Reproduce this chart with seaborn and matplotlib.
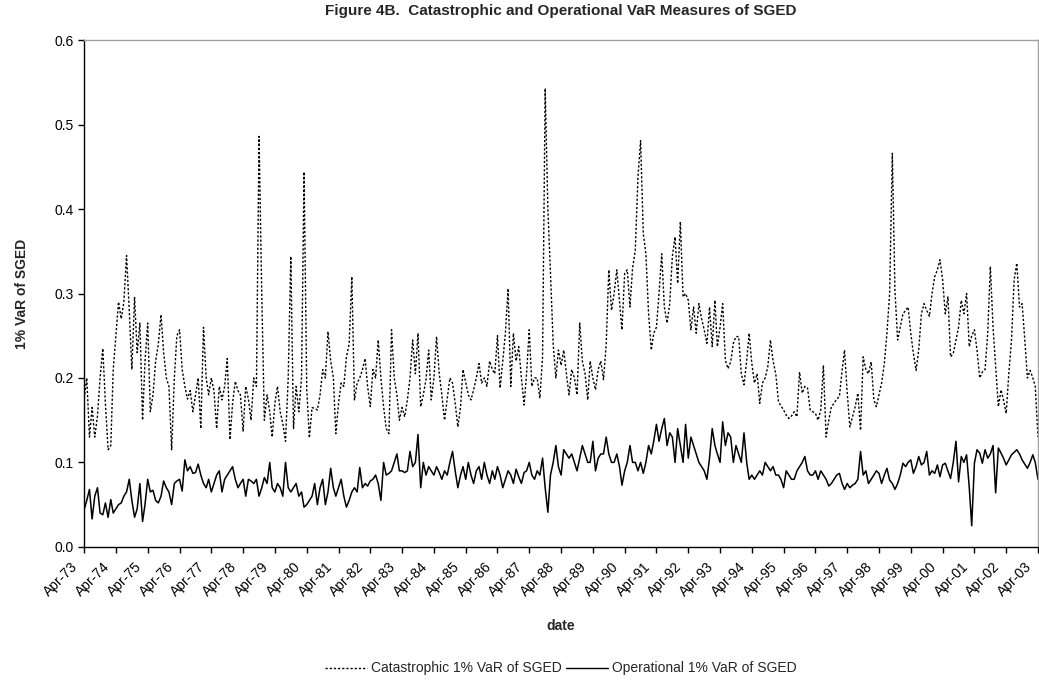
import pandas as pd
import matplotlib
matplotlib.use("Agg")
import matplotlib.pyplot as plt
import matplotlib.dates as mdates
import matplotlib.transforms as mtransforms
import seaborn as sns

# monthly values, Apr-1973 .. Apr-2003, one row per year (Apr..Mar)
catastrophic = [
    0.176, 0.200, 0.130, 0.165, 0.130, 0.155, 0.200, 0.235, 0.170, 0.115, 0.120, 0.210,
    0.250, 0.290, 0.270, 0.290, 0.345, 0.280, 0.210, 0.296, 0.230, 0.265, 0.150, 0.220,
    0.265, 0.160, 0.180, 0.220, 0.240, 0.275, 0.230, 0.200, 0.190, 0.115, 0.200, 0.250,
    0.257, 0.210, 0.190, 0.175, 0.185, 0.160, 0.180, 0.200, 0.140, 0.260, 0.200, 0.180,
    0.200, 0.185, 0.140, 0.190, 0.174, 0.190, 0.223, 0.127, 0.170, 0.196, 0.185, 0.180,
    0.137, 0.190, 0.175, 0.150, 0.200, 0.190, 0.486, 0.300, 0.150, 0.180, 0.160, 0.130,
    0.170, 0.190, 0.160, 0.146, 0.125, 0.200, 0.344, 0.140, 0.190, 0.160, 0.200, 0.444,
    0.186, 0.129, 0.165, 0.164, 0.162, 0.180, 0.210, 0.200, 0.255, 0.220, 0.200, 0.134,
    0.170, 0.194, 0.190, 0.225, 0.240, 0.320, 0.174, 0.194, 0.200, 0.210, 0.223, 0.190,
    0.166, 0.210, 0.200, 0.245, 0.200, 0.166, 0.140, 0.134, 0.257, 0.200, 0.180, 0.150,
    0.165, 0.154, 0.174, 0.200, 0.245, 0.205, 0.253, 0.166, 0.180, 0.198, 0.233, 0.174,
    0.200, 0.249, 0.205, 0.180, 0.150, 0.175, 0.200, 0.194, 0.170, 0.142, 0.166, 0.210,
    0.195, 0.180, 0.174, 0.186, 0.200, 0.217, 0.194, 0.200, 0.190, 0.220, 0.210, 0.205,
    0.250, 0.188, 0.220, 0.253, 0.306, 0.190, 0.253, 0.220, 0.237, 0.200, 0.168, 0.205,
    0.257, 0.190, 0.200, 0.200, 0.176, 0.225, 0.543, 0.400, 0.324, 0.240, 0.200, 0.233,
    0.215, 0.233, 0.205, 0.180, 0.210, 0.200, 0.180, 0.265, 0.220, 0.205, 0.174, 0.220,
    0.200, 0.186, 0.210, 0.220, 0.198, 0.240, 0.328, 0.280, 0.300, 0.328, 0.290, 0.257,
    0.324, 0.328, 0.284, 0.330, 0.351, 0.438, 0.481, 0.371, 0.347, 0.276, 0.233, 0.253,
    0.260, 0.300, 0.347, 0.284, 0.265, 0.288, 0.344, 0.367, 0.312, 0.385, 0.296, 0.300,
    0.292, 0.257, 0.284, 0.253, 0.288, 0.270, 0.257, 0.241, 0.284, 0.237, 0.292, 0.237,
    0.260, 0.288, 0.221, 0.211, 0.219, 0.241, 0.249, 0.249, 0.205, 0.192, 0.221, 0.253,
    0.217, 0.194, 0.205, 0.170, 0.194, 0.200, 0.213, 0.245, 0.220, 0.205, 0.172, 0.167,
    0.162, 0.156, 0.152, 0.155, 0.160, 0.154, 0.207, 0.182, 0.190, 0.188, 0.162, 0.160,
    0.158, 0.150, 0.162, 0.215, 0.130, 0.150, 0.166, 0.170, 0.175, 0.178, 0.209, 0.233,
    0.182, 0.142, 0.154, 0.166, 0.182, 0.138, 0.225, 0.210, 0.205, 0.219, 0.174, 0.166,
    0.180, 0.194, 0.217, 0.253, 0.300, 0.466, 0.304, 0.245, 0.260, 0.276, 0.280, 0.284,
    0.253, 0.229, 0.209, 0.233, 0.276, 0.288, 0.280, 0.273, 0.300, 0.320, 0.328, 0.340,
    0.316, 0.276, 0.296, 0.225, 0.229, 0.245, 0.260, 0.292, 0.276, 0.300, 0.237, 0.250,
    0.257, 0.233, 0.200, 0.207, 0.210, 0.253, 0.332, 0.260, 0.213, 0.166, 0.186, 0.174,
    0.158, 0.205, 0.245, 0.316, 0.336, 0.284, 0.288, 0.245, 0.200, 0.209, 0.200, 0.190,
    0.130,
]

operational = [
    0.044, 0.055, 0.068, 0.033, 0.060, 0.070, 0.040, 0.038, 0.052, 0.035, 0.056, 0.040,
    0.045, 0.050, 0.052, 0.060, 0.065, 0.080, 0.055, 0.035, 0.045, 0.075, 0.030, 0.050,
    0.080, 0.065, 0.067, 0.055, 0.052, 0.060, 0.078, 0.070, 0.065, 0.050, 0.075, 0.078,
    0.080, 0.066, 0.103, 0.090, 0.095, 0.087, 0.088, 0.098, 0.085, 0.075, 0.070, 0.080,
    0.065, 0.075, 0.085, 0.090, 0.065, 0.080, 0.085, 0.090, 0.095, 0.080, 0.070, 0.075,
    0.080, 0.060, 0.080, 0.078, 0.075, 0.080, 0.060, 0.070, 0.082, 0.075, 0.100, 0.070,
    0.065, 0.075, 0.070, 0.060, 0.100, 0.070, 0.065, 0.070, 0.075, 0.060, 0.065, 0.047,
    0.050, 0.055, 0.060, 0.075, 0.050, 0.070, 0.080, 0.050, 0.065, 0.093, 0.070, 0.060,
    0.070, 0.080, 0.060, 0.047, 0.055, 0.065, 0.070, 0.065, 0.094, 0.070, 0.075, 0.072,
    0.078, 0.080, 0.085, 0.075, 0.055, 0.100, 0.085, 0.087, 0.090, 0.100, 0.110, 0.090,
    0.090, 0.088, 0.090, 0.113, 0.095, 0.100, 0.133, 0.070, 0.100, 0.085, 0.095, 0.090,
    0.085, 0.095, 0.088, 0.080, 0.090, 0.085, 0.100, 0.113, 0.090, 0.070, 0.085, 0.095,
    0.080, 0.100, 0.085, 0.075, 0.090, 0.095, 0.080, 0.100, 0.085, 0.075, 0.090, 0.080,
    0.095, 0.085, 0.070, 0.080, 0.090, 0.085, 0.075, 0.092, 0.083, 0.075, 0.088, 0.090,
    0.100, 0.085, 0.080, 0.090, 0.085, 0.105, 0.070, 0.041, 0.085, 0.100, 0.120, 0.095,
    0.085, 0.115, 0.110, 0.105, 0.110, 0.100, 0.090, 0.105, 0.120, 0.110, 0.100, 0.100,
    0.125, 0.090, 0.105, 0.110, 0.110, 0.130, 0.110, 0.100, 0.100, 0.110, 0.095, 0.073,
    0.090, 0.100, 0.120, 0.100, 0.100, 0.090, 0.100, 0.087, 0.100, 0.120, 0.110, 0.125,
    0.145, 0.125, 0.140, 0.152, 0.120, 0.135, 0.130, 0.100, 0.140, 0.120, 0.100, 0.145,
    0.105, 0.130, 0.120, 0.110, 0.100, 0.095, 0.090, 0.080, 0.105, 0.140, 0.120, 0.110,
    0.100, 0.148, 0.120, 0.135, 0.130, 0.100, 0.120, 0.110, 0.100, 0.135, 0.100, 0.080,
    0.085, 0.080, 0.085, 0.090, 0.085, 0.100, 0.095, 0.090, 0.095, 0.085, 0.085, 0.080,
    0.070, 0.090, 0.085, 0.080, 0.080, 0.090, 0.095, 0.100, 0.107, 0.090, 0.085, 0.085,
    0.090, 0.080, 0.090, 0.085, 0.080, 0.072, 0.075, 0.080, 0.085, 0.087, 0.075, 0.068,
    0.075, 0.070, 0.073, 0.075, 0.080, 0.113, 0.085, 0.090, 0.075, 0.080, 0.085, 0.090,
    0.087, 0.075, 0.085, 0.093, 0.079, 0.075, 0.068, 0.075, 0.085, 0.099, 0.095, 0.100,
    0.103, 0.087, 0.095, 0.107, 0.097, 0.100, 0.113, 0.085, 0.090, 0.087, 0.097, 0.083,
    0.097, 0.099, 0.090, 0.081, 0.100, 0.125, 0.077, 0.107, 0.100, 0.109, 0.070, 0.025,
    0.099, 0.115, 0.111, 0.099, 0.115, 0.105, 0.110, 0.120, 0.064, 0.117, 0.111, 0.105,
    0.097, 0.103, 0.109, 0.112, 0.115, 0.110, 0.103, 0.098, 0.093, 0.100, 0.109, 0.100,
    0.080,
]

dates = pd.date_range("1973-04-01", periods=len(catastrophic), freq="MS")
cat_label = "Catastrophic 1% VaR of SGED"
op_label = "Operational 1% VaR of SGED"

df = pd.DataFrame({"date": dates, cat_label: catastrophic, op_label: operational})
long_df = df.melt(id_vars="date", var_name="series", value_name="var")

sns.set_style("white")
plt.rcParams["font.family"] = ["Liberation Sans", "DejaVu Sans"]

fig = plt.figure(figsize=(10.39, 6.81), dpi=100)
ax = fig.add_axes([0.081, 0.197, 0.918, 0.744])

sns.lineplot(data=long_df, x="date", y="var", hue="series", style="series",
             palette=["black", "black"],
             dashes={cat_label: (1.6, 1.4), op_label: ""},
             linewidth=1.0, ax=ax)
ax.lines[1].set_linewidth(1.1)

ax.set_ylim(0, 0.6)
ax.set_yticks([0.0, 0.1, 0.2, 0.3, 0.4, 0.5, 0.6])
ax.yaxis.set_major_formatter(matplotlib.ticker.FormatStrFormatter("%.1f"))
ax.set_xlim(dates[0], dates[-1])
ax.xaxis.set_major_locator(mdates.MonthLocator(bymonth=4))
ax.xaxis.set_major_formatter(mdates.DateFormatter("%b-%y"))

ax.tick_params(axis="both", direction="out", length=4, width=1, labelsize=10,
               bottom=True, left=True, colors="black")
ax.tick_params(axis="x", pad=9)
# rotated labels end just left of their tick, like Excel
# (done after tick_params, which would reset the transforms)
shift = mtransforms.ScaledTranslation(-6 / 72, 0, fig.dpi_scale_trans)
for lab in ax.get_xticklabels():
    lab.set_rotation(45)
    lab.set_ha("right")
    lab.set_va("center")
    lab.set_rotation_mode("anchor")
    lab.set_transform(lab.get_transform() + shift)

for side in ["left", "bottom"]:
    ax.spines[side].set_color("black")
    ax.spines[side].set_linewidth(1.0)
for side in ["top", "right"]:
    ax.spines[side].set_color("#a0a0a0")
    ax.spines[side].set_linewidth(1.0)

ax.set_title("Figure 4B.  Catastrophic and Operational VaR Measures of SGED",
             fontsize=11, fontweight="bold", pad=18)
ax.set_ylabel("1% VaR of SGED", fontsize=10, fontweight="bold", labelpad=18)
ax.set_xlabel("date", fontsize=10, fontweight="bold", labelpad=14)

handles, labels = ax.get_legend_handles_labels()
ax.legend(handles, labels, loc="center", bbox_to_anchor=(0.5, -0.24), ncol=2,
          frameon=False, fontsize=10, handlelength=3.0, columnspacing=0.3,
          handletextpad=0.3)

fig.savefig("out.png", dpi=100)
